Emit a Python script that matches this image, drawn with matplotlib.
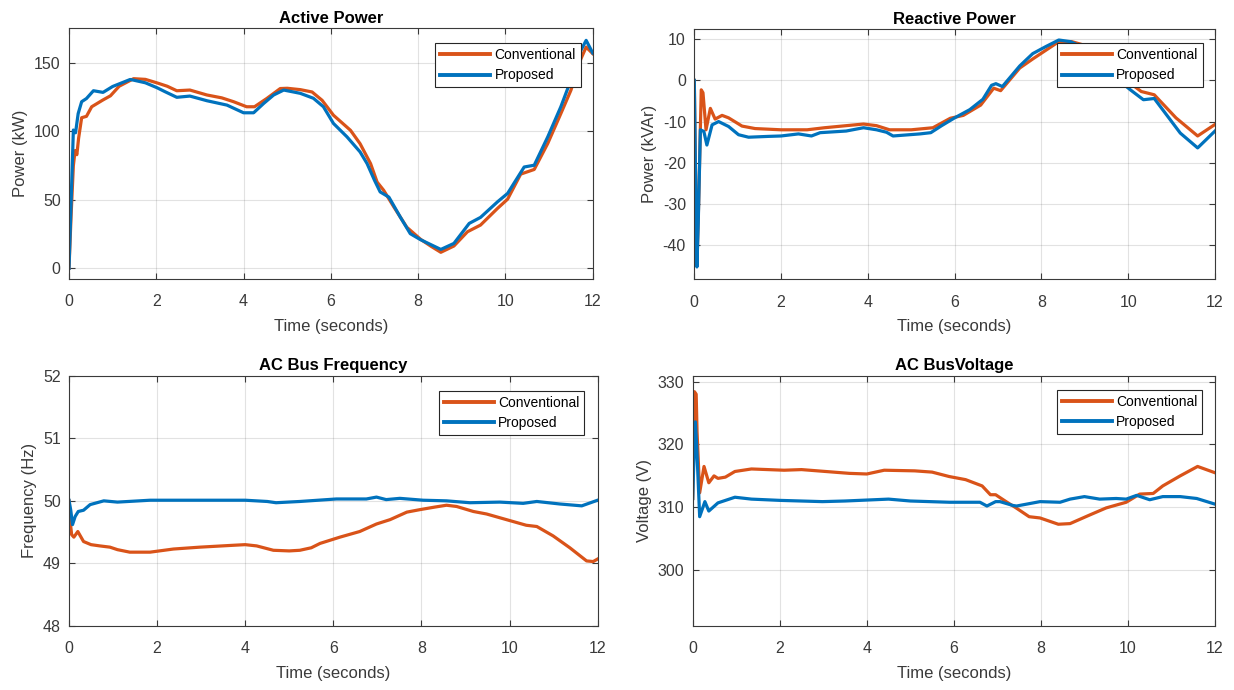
import matplotlib
matplotlib.use("Agg")
import matplotlib.pyplot as plt

plt.rcParams['font.family'] = ['Liberation Sans', 'DejaVu Sans']
plt.rcParams['axes.unicode_minus'] = False

# ---------------- data ----------------
series_labels = ["Conventional", "Proposed"]
xticks = [0, 2, 4, 6, 8, 10, 12]

# Active power (kW)
p_conv_t = [0, 0.05, 0.1, 0.14, 0.18, 0.22, 0.29, 0.4, 0.52, 0.78, 0.95, 1.15, 1.48, 1.75, 2.01,
            2.25, 2.47, 2.77, 3.16, 3.5, 3.77, 4.07, 4.25, 4.53, 4.84, 5.0, 5.3, 5.57, 5.8, 6.06,
            6.45, 6.67, 6.91, 7.06, 7.21, 7.44, 7.74, 8.06, 8.3, 8.52, 8.82, 9.13, 9.43, 9.82,
            10.05, 10.35, 10.66, 10.97, 11.27, 11.5, 11.73, 11.85, 12.0]
p_conv = [0, 40, 75, 86, 83, 95, 110, 111, 118, 123, 126, 133, 138.5, 138, 135.5,
          133, 129.7, 130.2, 126.6, 124.5, 121.7, 118, 118, 124, 131.3, 131.5, 130.5, 128.8, 122.7, 111.8,
          100.8, 91, 76.5, 63, 57, 45, 30, 21.1, 16, 11.7, 16.3, 26.7, 31.6, 43.8,
          50.5, 68.8, 72.2, 91.2, 113, 130, 153, 161.6, 156.8]
p_prop_t = [0, 0.05, 0.1, 0.15, 0.21, 0.29, 0.4, 0.56, 0.78, 1.0, 1.4, 1.47, 1.75, 2.01, 2.2,
            2.47, 2.77, 3.16, 3.62, 4.0, 4.23, 4.46, 4.69, 4.92, 5.3, 5.6, 5.83, 6.06, 6.37, 6.67,
            6.83, 7.0, 7.13, 7.33, 7.59, 7.82, 8.05, 8.52, 8.82, 9.17, 9.43, 9.82, 10.05, 10.43,
            10.66, 10.97, 11.27, 11.5, 11.73, 11.85, 12.0]
p_prop = [0, 50, 101, 99, 113, 121.7, 124, 129.7, 128.5, 132.8, 137.9, 137.5, 135.5, 132, 129,
          124.9, 125.8, 122.4, 119.2, 113.6, 113.6, 120.4, 126.6, 130.2, 127.8, 124.2, 118, 105.8, 96, 85,
          76.5, 64.3, 55.8, 52, 37.5, 25.3, 21, 13.8, 18.2, 32.8, 37.2, 48.6, 54.7, 74,
          75.3, 96, 118, 137.4, 159.2, 166.5, 157.3]

# Reactive power (kVAr)
q_conv_t = [0, 0.03, 0.06, 0.1, 0.16, 0.2, 0.27, 0.37, 0.48, 0.64, 0.79, 1.1, 1.4, 2.0, 2.6,
            3.0, 3.5, 3.9, 4.2, 4.5, 5.0, 5.5, 5.9, 6.2, 6.6, 6.9, 7.06, 7.5, 7.8, 8.1,
            8.4, 8.7, 9.0, 9.3, 9.6, 9.9, 10.3, 10.6, 11.1, 11.6, 12.0]
q_conv = [0, -25, -45, -30, -2.3, -3, -12, -6.8, -9.4, -8.5, -9.1, -11.1, -11.7, -12, -12,
          -11.5, -11, -10.6, -11, -12, -12, -11.5, -9.2, -8.5, -6, -1.9, -2.5, 3.0, 5.2, 7.3,
          9.4, 9.4, 8.5, 6, 3, 0.5, -2.7, -3.5, -9.1, -13.5, -10.7]
q_prop_t = [0, 0.03, 0.06, 0.09, 0.14, 0.22, 0.29, 0.41, 0.56, 0.79, 1.02, 1.25, 1.71, 2.0, 2.4,
            2.7, 2.9, 3.5, 3.9, 4.2, 4.43, 4.58, 5.2, 5.45, 5.7, 6.0, 6.35, 6.65, 6.85, 6.95,
            7.1, 7.5, 7.8, 8.1, 8.4, 8.67, 9.0, 9.3, 9.6, 9.9, 10.05, 10.35, 10.6, 11.2, 11.6, 12.0]
q_prop = [0, -25, -45.3, -35, -12, -12.4, -15.7, -10.8, -10.0, -11.2, -13.2, -13.8, -13.6, -13.5, -13,
          -13.5, -12.7, -12.3, -11.5, -12, -12.6, -13.5, -13, -12.7, -11, -9.1, -7.1, -4.6, -1.2, -0.8,
          -1.5, 3.5, 6.5, 8.2, 9.8, 9.4, 7.8, 4.5, 1.5, -1, -2.3, -4.7, -4.4, -12.8, -16.4, -12.3]

# AC bus frequency (Hz)
f_conv_t = [0, 0.03, 0.06, 0.11, 0.2, 0.33, 0.5, 0.7, 0.93, 1.1, 1.38, 1.84, 2.37, 2.97, 3.73,
            4.0, 4.26, 4.64, 5.0, 5.24, 5.5, 5.7, 6.15, 6.6, 6.98, 7.29, 7.67, 7.97, 8.3, 8.57,
            8.8, 9.18, 9.48, 9.93, 10.38, 10.62, 10.99, 11.37, 11.75, 11.9, 12.0]
f_conv = [50.0, 49.65, 49.46, 49.42, 49.51, 49.35, 49.3, 49.28, 49.26, 49.22, 49.18, 49.18, 49.23, 49.26, 49.29,
          49.3, 49.28, 49.21, 49.2, 49.21, 49.25, 49.32, 49.42, 49.51, 49.63, 49.7, 49.82, 49.86, 49.9, 49.93,
          49.91, 49.83, 49.79, 49.7, 49.61, 49.59, 49.44, 49.25, 49.04, 49.03, 49.07]
f_prop_t = [0, 0.04, 0.08, 0.14, 0.21, 0.33, 0.48, 0.79, 1.1, 1.84, 3.0, 4.0, 4.5, 4.7, 5.24,
            6.07, 6.75, 6.98, 7.2, 7.51, 8.04, 8.57, 9.1, 9.78, 10.31, 10.62, 11.14, 11.64, 12.0]
f_prop = [50.01, 49.85, 49.62, 49.75, 49.83, 49.85, 49.94, 50.0, 49.98, 50.01, 50.01, 50.01, 49.99, 49.97, 49.99,
          50.03, 50.03, 50.06, 50.02, 50.04, 50.01, 50.0, 49.97, 49.98, 49.96, 49.99, 49.95, 49.92, 50.01]

# AC bus voltage (V)
v_conv_t = [0, 0.02, 0.04, 0.08, 0.1, 0.16, 0.26, 0.37, 0.49, 0.58, 0.75, 0.97, 1.35, 2.1, 2.5,
            3.6, 4.0, 4.4, 5.1, 5.5, 5.89, 6.27, 6.65, 6.84, 6.96, 7.2, 7.43, 7.73, 7.98, 8.4,
            8.67, 9.13, 9.5, 9.96, 10.27, 10.58, 10.8, 11.2, 11.6, 12.0]
v_conv = [311.4, 320, 328.4, 328, 322, 312.3, 316.5, 313.9, 315, 314.6, 314.8, 315.7, 316.1, 315.9, 316,
          315.4, 315.3, 315.9, 315.8, 315.6, 314.9, 314.4, 313.4, 312.0, 312.0, 310.9, 309.9, 308.5, 308.3, 307.3,
          307.4, 308.8, 309.9, 310.8, 312.1, 312.2, 313.4, 315.0, 316.5, 315.5]
v_prop_t = [0, 0.03, 0.06, 0.09, 0.16, 0.28, 0.37, 0.58, 0.97, 1.35, 2.0, 2.98, 3.5, 4.5, 5.0,
            5.9, 6.6, 6.76, 6.96, 7.06, 7.35, 7.44, 7.98, 8.44, 8.67, 9.0, 9.35, 9.73, 9.96, 10.2,
            10.5, 10.8, 11.2, 11.58, 12.0]
v_prop = [311.4, 318, 323.6, 320, 308.5, 310.9, 309.4, 310.7, 311.6, 311.3, 311.1, 310.9, 311.0, 311.3, 311.0,
          310.8, 310.8, 310.2, 310.9, 310.9, 310.3, 310.2, 310.9, 310.8, 311.3, 311.7, 311.3, 311.4, 311.3, 311.9,
          311.2, 311.7, 311.7, 311.4, 310.5]

# ---------------- style ----------------
C_CONV = "#D95319"
C_PROP = "#0072BD"
AXC = "#3a3a3a"
W, H = 1234, 690

fig = plt.figure(figsize=(W / 100, H / 100), dpi=100)


def make_axes(l, r, t, b):
    return fig.add_axes([l / W, (H - b) / H, (r - l) / W, (b - t) / H])


panels = [
    dict(box=(69, 592.7, 28.3, 279), title="Active Power", ylabel="Power (kW)",
         ylim=(-7.8, 175.3), yticks=[0, 50, 100, 150],
         data=((p_conv_t, p_conv), (p_prop_t, p_prop)), leg=(12, 15)),
    dict(box=(694.3, 1215, 29.3, 279.3), title="Reactive Power", ylabel="Power (kVAr)",
         ylim=(-48.3, 12.4), yticks=[-40, -30, -20, -10, 0, 10],
         data=((q_conv_t, q_conv), (q_prop_t, q_prop)), leg=(12.5, 14)),
    dict(box=(69, 597.6, 375.7, 626), title="AC Bus Frequency", ylabel="Frequency (Hz)",
         ylim=(48, 52), yticks=[48, 49, 50, 51, 52],
         data=((f_conv_t, f_conv), (f_prop_t, f_prop)), leg=(13.5, 15)),
    dict(box=(692.7, 1215, 376, 626), title="AC BusVoltage", ylabel="Voltage (V)",
         ylim=(291.1, 330.9), yticks=[300, 310, 320, 330],
         data=((v_conv_t, v_conv), (v_prop_t, v_prop)), leg=(12.7, 14)),
]

for p in panels:
    l, r, t, b = p["box"]
    ax = make_axes(l, r, t, b)
    (ct, cv), (pt, pv) = p["data"]
    ax.plot(ct, cv, color=C_CONV, lw=2.3, label=series_labels[0], solid_joinstyle="round")
    ax.plot(pt, pv, color=C_PROP, lw=2.3, label=series_labels[1], solid_joinstyle="round")
    ax.set_xlim(0, 12)
    ax.set_ylim(*p["ylim"])
    ax.set_xticks(xticks)
    ax.set_yticks(p["yticks"])
    ax.grid(True, color="#262626", alpha=0.13, lw=0.8)
    ax.set_axisbelow(True)
    ax.tick_params(direction="in", length=4, width=0.8, colors=AXC, labelsize=11.5,
                   top=True, right=True, labeltop=False, labelright=False)
    ax.tick_params(axis="x", pad=11)
    ax.tick_params(axis="y", pad=6)
    for s in ax.spines.values():
        s.set_color(AXC)
        s.set_linewidth(0.8)
    ax.set_title(p["title"], fontsize=12, fontweight="bold", color="black", pad=4)
    ax.set_xlabel("Time (seconds)", fontsize=12, color=AXC, labelpad=7)
    ax.set_ylabel(p["ylabel"], fontsize=12, color=AXC, labelpad=4)
    gx, gy = p["leg"]
    wpx, hpx = r - l, b - t
    leg = ax.legend(loc="upper right", bbox_to_anchor=(1 - gx / wpx, 1 - gy / hpx),
                    borderaxespad=0, fontsize=10, fancybox=False, framealpha=1,
                    edgecolor="#262626", handlelength=3.6, handletextpad=0.3,
                    labelspacing=0.45, borderpad=0.35)
    leg.get_frame().set_linewidth(0.8)
    for ln in leg.get_lines():
        ln.set_linewidth(2.8)

fig.savefig("out.png", dpi=100)
